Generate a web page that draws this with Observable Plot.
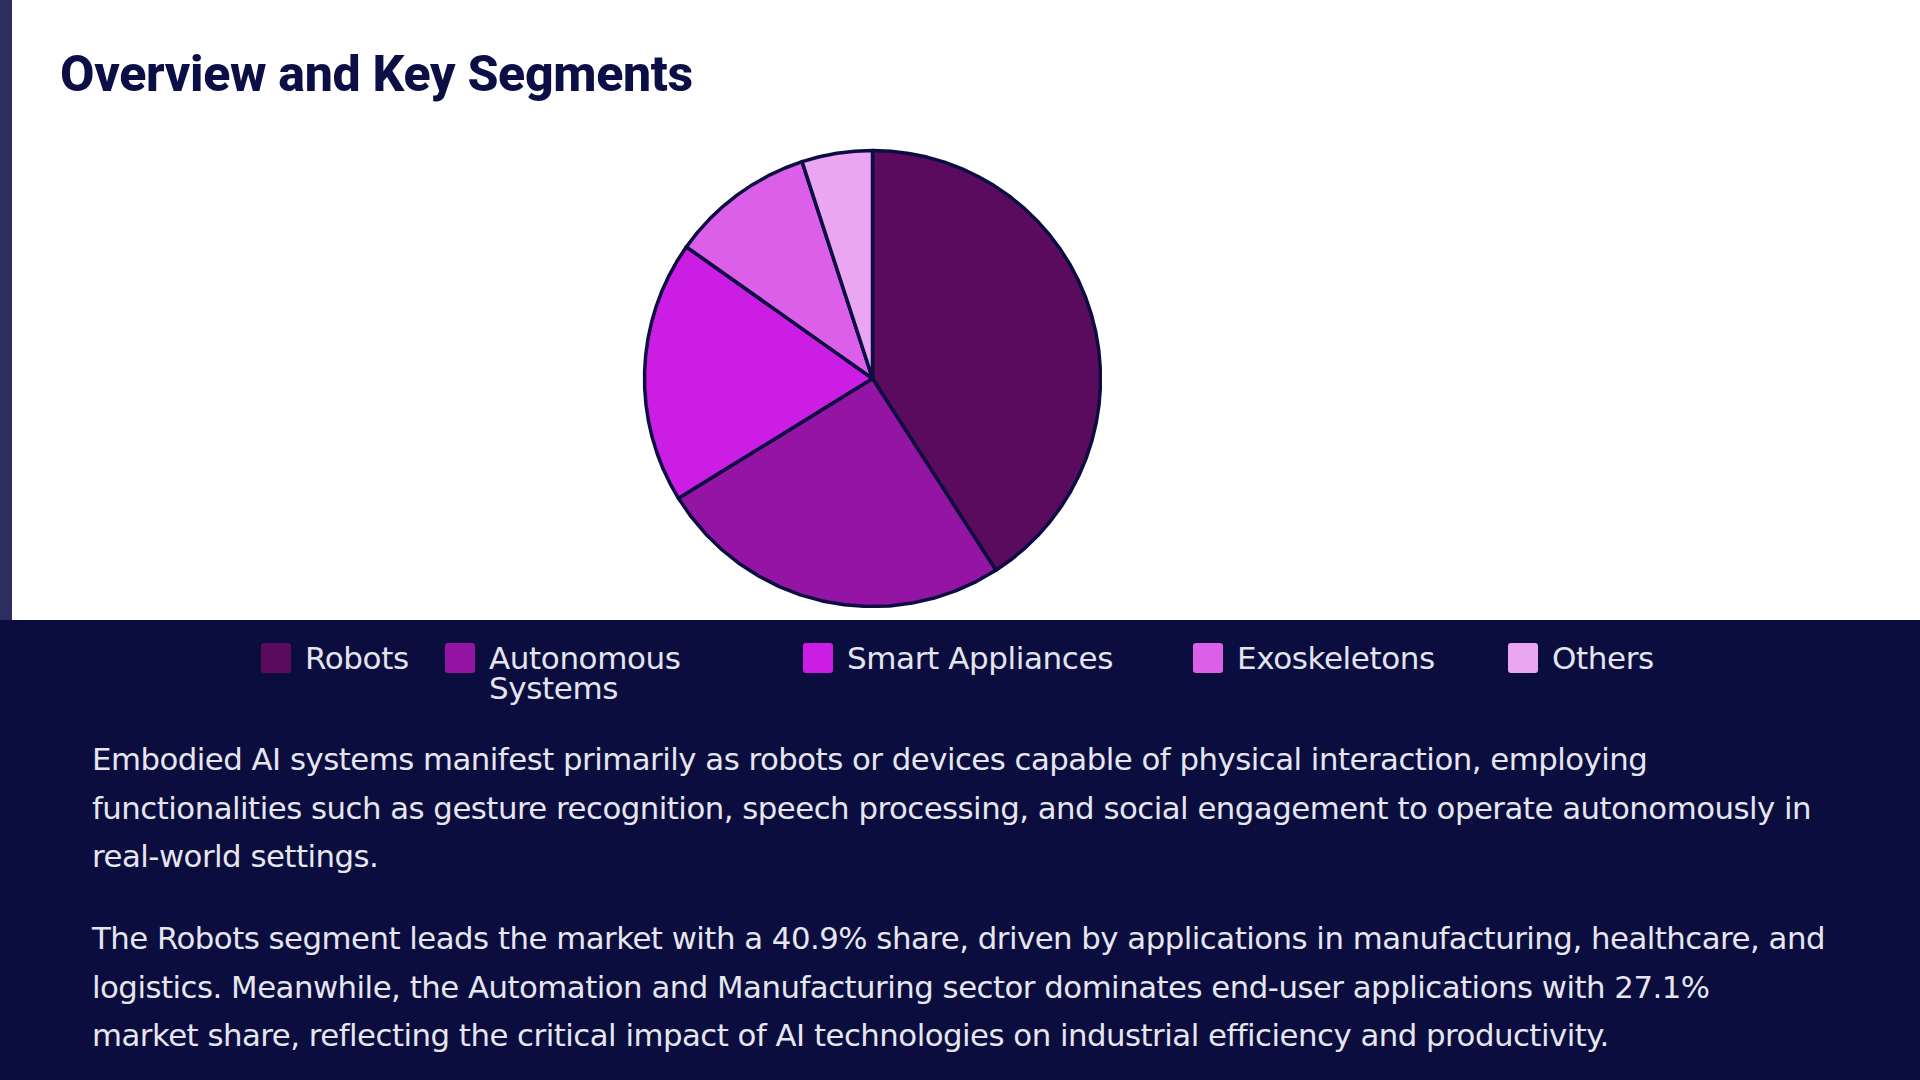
<!DOCTYPE html>
<html>
<head>
<meta charset="utf-8">
<script src="https://cdn.jsdelivr.net/npm/d3@7"></script>
<script src="https://cdn.jsdelivr.net/npm/@observablehq/plot@0.6"></script>
<style>
  html, body { margin: 0; padding: 0; }
  body { width: 1920px; height: 1080px; position: relative; overflow: hidden; background: #ffffff; font-family: "DejaVu Sans", sans-serif; }
  #bar { position: absolute; left: 0; top: 0; width: 12px; height: 620px; background: #2b2e5e; }
  #title { position: absolute; left: 60px; top: 46px; margin: 0; font-family: Roboto, sans-serif; font-weight: 800; font-size: 50px; line-height: 56px; color: #0c0f45; letter-spacing: -0.3px; }
  #chart { position: absolute; left: 642px; top: 148px; }
  #panel { position: absolute; left: 0; top: 620px; width: 1920px; height: 460px; background: #0b0d3f; }
  #legend { position: absolute; left: 261px; top: 643px; display: flex; align-items: flex-start; }
  .item { display: flex; align-items: flex-start; }
  .sw { width: 30px; height: 30px; border-radius: 3px; flex: none; }
  .lt { margin-left: 14px; color: #e4e4ee; font-size: 31px; line-height: 30px; margin-top: 0px; letter-spacing: -0.4px; }
  #text { position: absolute; left: 92px; top: 735px; color: #e6e6ef; font-size: 30px; line-height: 48.5px; letter-spacing: -0.5px; }
  #text p { margin: 0; white-space: nowrap; }
  #text p + p { margin-top: 33.5px; }
</style>
</head>
<body>
<div id="bar"></div>
<h1 id="title">Overview and Key Segments</h1>
<div id="chart"></div>
<div id="panel"></div>
<div id="legend"></div>
<div id="text">
  <p><span id="fitline">Embodied AI systems manifest primarily as robots or devices capable of physical interaction, employing</span><br>functionalities such as gesture recognition, speech processing, and social engagement to operate autonomously in<br>real-world settings.</p>
  <p>The Robots segment leads the market with a 40.9% share, driven by applications in manufacturing, healthcare, and<br>logistics. Meanwhile, the Automation and Manufacturing sector dominates end-user applications with 27.1%<br>market share, reflecting the critical impact of AI technologies on industrial efficiency and productivity.</p>
</div>
<script>
// ---- data ----
const categories = ["Robots", "Autonomous Systems", "Smart Appliances", "Exoskeletons", "Others"];
const shares = [40.9, 25.3, 18.6, 10.2, 5.0];
const colors = ["#5a0b5e", "#9414a3", "#cb1de3", "#dc5fea", "#eaa5f3"];

// ---- layout (not data) ----
const legendItemWidths = [184, 358, 390, 315, null];
const legendTextMax = [null, 225, null, null, null];

// build pie slices as spherical wedges (pole to equator) for a polar azimuthal projection
const total = d3.sum(shares);
let acc = 0;
const slices = categories.map((name, i) => {
  const t0 = acc / total * 360;
  acc += shares[i];
  const t1 = acc / total * 360;
  const lonA = 180 - t0, lonB = 180 - t1;
  let ring = [[lonA, 0], [lonB, 0], [0, 90], [lonA, 0]];
  let f = {type: "Feature", properties: {name, value: shares[i]}, geometry: {type: "Polygon", coordinates: [ring]}};
  if (d3.geoArea(f) > 2 * Math.PI) {
    f.geometry.coordinates = [ring.slice().reverse()];
  }
  return f;
});
const collection = {type: "FeatureCollection", features: slices};

const plot = Plot.plot({
  width: 460,
  height: 460,
  margin: 0,
  projection: {type: "azimuthal-equidistant", rotate: [0, -90], domain: collection, inset: 2},
  color: {domain: categories, range: colors},
  marks: [
    Plot.geo(slices, {fill: d => d.properties.name, stroke: "#0c0d40", strokeWidth: 3.5, strokeLinejoin: "round"})
  ]
});
document.getElementById("chart").appendChild(plot);

// legend
const legend = document.getElementById("legend");
categories.forEach((c, i) => {
  const item = document.createElement("div");
  item.className = "item";
  if (legendItemWidths[i]) item.style.width = legendItemWidths[i] + "px";
  const sw = document.createElement("div");
  sw.className = "sw";
  sw.style.background = colors[i];
  const lt = document.createElement("div");
  lt.className = "lt";
  lt.textContent = c;
  if (legendTextMax[i]) lt.style.maxWidth = legendTextMax[i] + "px";
  item.appendChild(sw);
  item.appendChild(lt);
  legend.appendChild(item);
});

// fit paragraph font size so the first line spans the reference width
const target = 1555;
const fl = document.getElementById("fitline");
const w = fl.getBoundingClientRect().width;
if (w > 0) {
  const fs = 30 * target / w;
  document.getElementById("text").style.fontSize = fs.toFixed(2) + "px";
}
</script>
</body>
</html>
